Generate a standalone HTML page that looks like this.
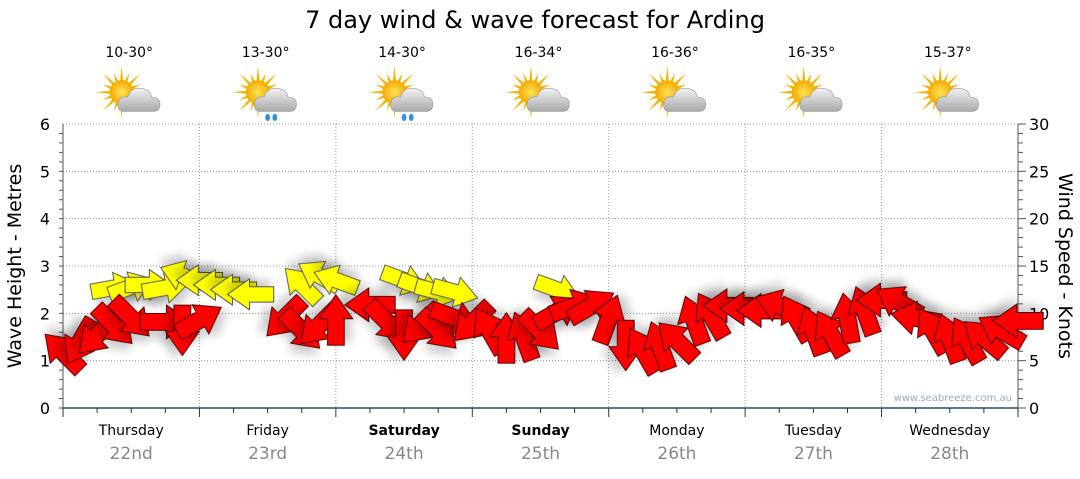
<!DOCTYPE html>
<html><head><meta charset="utf-8">
<style>
body{margin:0;background:#fff;width:1080px;height:475px;overflow:hidden;font-family:"DejaVu Sans","Liberation Sans",sans-serif}
</style></head>
<body>
<svg id="chart" width="1080" height="475" xmlns="http://www.w3.org/2000/svg" font-family="DejaVu Sans, Liberation Sans, sans-serif">
<defs>
<filter id="sh" x="-50%" y="-50%" width="200%" height="200%"><feGaussianBlur in="SourceAlpha" stdDeviation="4"/><feOffset dx="3" dy="6"/><feComponentTransfer><feFuncA type="linear" slope="0.2"/></feComponentTransfer><feMerge><feMergeNode/><feMergeNode in="SourceGraphic"/></feMerge></filter>
<radialGradient id="sun" cx="50%" cy="50%" r="50%"><stop offset="0" stop-color="#ffe45a"/><stop offset="1" stop-color="#f3a900"/></radialGradient>
<linearGradient id="cloud" x1="0" y1="0" x2="0" y2="1"><stop offset="0" stop-color="#f2f2f2"/><stop offset="1" stop-color="#a8a8a8"/></linearGradient>
</defs>
<text x="535" y="28" font-size="24" text-anchor="middle" fill="#000">7 day wind &amp; wave forecast for Arding</text>
<g id="grid"></g>
<g id="axes"></g>
<g id="icons"></g>
<g id="marks"></g>
<text x="1012" y="401" font-size="10" text-anchor="end" fill="#9ab">www.seabreeze.com.au</text>
<text transform="translate(21,266) rotate(-90)" font-size="19" text-anchor="middle">Wave Height - Metres</text>
<text transform="translate(1059,266) rotate(90)" font-size="19" text-anchor="middle">Wind Speed - Knots</text>
</svg>
<script>
const days=["Thursday","Friday","Saturday","Sunday","Monday","Tuesday","Wednesday"];
const dates=["22nd","23rd","24th","25th","26th","27th","28th"];
const temps=["10-30°","13-30°","14-30°","16-34°","16-36°","16-35°","15-37°"];
const rain=[false,true,true,false,false,false,false];
const leftTicks=[0,1,2,3,4,5,6];
const rightTicks=[0,5,10,15,20,25,30];
// wind, 3-hourly from Thursday 00:00
const windKnots=[5.9,7,7.7,8.7,9.5,null,9.1,8.2,9.3, null,null,null,null,9.5,8.2,8.7,9.3,null,
 10.9,9.1,7.7,8.8,8.2,9.5,9,8.2,7.4,
 7.6,8.1,10.2,10.8,10.8,9.4,6.6,6.1,
 6.6,7.1,9.3,9.8,10.8,10.5,10.3,10.8,
 9.5,8.2,7.9,9.5,10.3,11.4,11.2,9.5,
 8.2,7.4,7.2,7.4,8.2,9.2];
const windDir=[-135,120,135,45,45,0,0,90,-30, 0,0,0,0,135,45,135,-90,-135,
 180,45,90,135,45,20,135,-120,-90,
 -110,45,-30,-20,-30,-70,90,-120,
 -110,-135,-110,-120,180,180,180,-160,
 -120,-110,-120,-100,-110,180,-150,-170,
 -120,-110,-120,-140,-150,180];
// waves (metres), null where not shown
const waveM=[null,null,null,2.54,2.56,2.6,2.54,2.8,2.7,2.6,2.5,2.4,null,null,2.6,2.8,2.7,
 null,null,null,2.7,2.55,2.45,2.45,null,null,null,null,null,2.5];
const waveDir=[0,0,0,-10,-20,0,-10,-160,180,180,180,180,0,0,-135,-150,-160,
 0,0,0,20,20,15,15,0,0,0,0,0,20];
const NS="http://www.w3.org/2000/svg";
const X0=63,X1=1018,Y0=408,Y6=124;
const xAt=i=>X0+i*(X1-X0)/56;
const yM=m=>Y0-m*(Y0-Y6)/6;
const yK=k=>Y0-k*(Y0-Y6)/30;
function mk(t,a,p){const e=document.createElementNS(NS,t);for(const k in a)e.setAttribute(k,a[k]);(p||document.getElementById('marks')).appendChild(e);return e;}
const grid=document.getElementById('grid'),axes=document.getElementById('axes'),icons=document.getElementById('icons');
leftTicks.forEach(m=>{if(m>0){const l=mk('line',{x1:X0,x2:X1,y1:yM(m),y2:yM(m),stroke:'#999','stroke-dasharray':'1,2'},grid);}
 const t=mk('text',{x:50,y:yM(m)+6,'font-size':16,'text-anchor':'end'},axes);t.textContent=m;
 });
for(let m=0;m<6;m+=0.2){mk('line',{x1:X0-4,x2:X0,y1:yM(m),y2:yM(m),stroke:'#555'},axes);}
rightTicks.forEach(k=>{const t=mk('text',{x:1029,y:yK(k)+6,'font-size':16},axes);t.textContent=k;
 });
for(let k=0;k<=30;k++){mk('line',{x1:X1,x2:X1+(k%5?5:8),y1:yK(k),y2:yK(k),stroke:'#555'},axes);}
mk('line',{x1:X0,x2:X0,y1:Y6,y2:Y0,stroke:'#555'},axes);
mk('line',{x1:X1,x2:X1,y1:Y6,y2:Y0,stroke:'#555'},axes);
mk('line',{x1:X0,x2:X1,y1:Y0,y2:Y0,stroke:'#1f4f7a','stroke-width':1.5},axes);
for(let i=0;i<=28;i++){mk('line',{x1:X0+i*(X1-X0)/28,x2:X0+i*(X1-X0)/28,y1:Y0,y2:Y0+(i%4?5:9),stroke:'#333'},axes);}
days.forEach((d,i)=>{const xb=X0+i*(X1-X0)/7,xc=xb+(X1-X0)/14;
 if(i>0){const l=mk('line',{x1:xb,x2:xb,y1:Y6,y2:Y0,stroke:'#999','stroke-dasharray':'1,2'},grid);}
 const t=mk('text',{x:xc,y:435,'font-size':14,'text-anchor':'middle','font-weight':(i==2||i==3)?'bold':'normal'},axes);t.textContent=d;
 
 const t2=mk('text',{x:xc,y:459,'font-size':17,'text-anchor':'middle',fill:'#888'},axes);t2.textContent=dates[i];
 
 const t3=mk('text',{x:xc-2,y:57,'font-size':14,'text-anchor':'middle'},axes);t3.textContent=temps[i];
 
 const g=mk('g',{transform:`translate(${xc},97) scale(1.2)`},icons);
 
 for(let r=0;r<16;r++){const a=r*Math.PI/8,L=r%2?17:22;mk('polygon',{points:`${-8+Math.cos(a-0.15)*9},${-4+Math.sin(a-0.15)*9} ${-8+Math.cos(a)*L},${-4+Math.sin(a)*L} ${-8+Math.cos(a+0.15)*9},${-4+Math.sin(a+0.15)*9}`,fill:'#f5b400'},g);}
 mk('circle',{cx:-8,cy:-4,r:10,fill:'url(#sun)'},g);
 mk('path',{d:'M-6,12 Q-12,12 -11,5 Q-10,-1 -3,0 Q0,-9 9,-7 Q16,-6 17,0 Q24,0 24,6 Q24,12 18,12 Z',fill:'url(#cloud)',stroke:'#999','stroke-width':0.5},g);
 if(rain[i]){mk('ellipse',{cx:0,cy:17,rx:2,ry:3,fill:'#3a8ee0'},g);mk('ellipse',{cx:6,cy:17,rx:2,ry:3,fill:'#3a8ee0'},g);}
});
const ARROW="-21,-7 1,-7 1,-14 21,0 1,14 1,7 -21,7";
waveM.forEach((m,i)=>{if(m==null)return;
 const p=mk('polygon',{points:ARROW,transform:`translate(${xAt(i)},${yM(m)}) rotate(${waveDir[i]}) scale(1.1)`,fill:'#ffff00',stroke:'#555','stroke-width':0.9,filter:'url(#sh)'});
 });
windKnots.forEach((k,i)=>{if(k==null)return;
 const p=mk('polygon',{points:ARROW,transform:`translate(${xAt(i)},${yK(k)}) rotate(${windDir[i]}) scale(1.2)`,fill:'#ff0000',stroke:'#400','stroke-width':0.8,filter:'url(#sh)'});
 });
</script>
</body></html>
